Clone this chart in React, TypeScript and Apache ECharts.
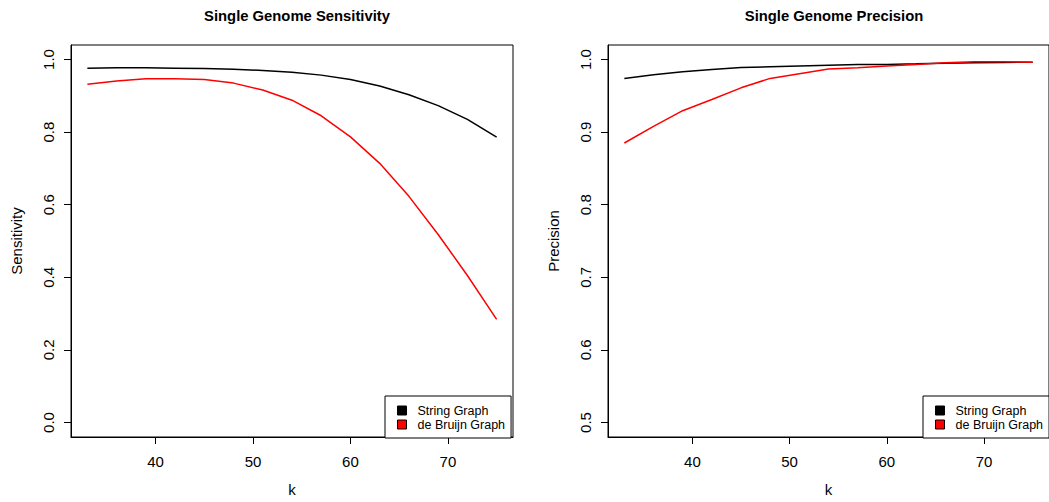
import React, { useEffect, useRef } from "react";
import * as echarts from "echarts";

const kValues = [33, 36, 39, 42, 45, 48, 51, 54, 57, 60, 63, 66, 69, 72, 75];
const sensString = [0.976, 0.977, 0.977, 0.976, 0.975, 0.973, 0.970, 0.965, 0.957, 0.945, 0.927, 0.903, 0.873, 0.835, 0.786];
const sensDeBruijn = [0.932, 0.941, 0.947, 0.947, 0.945, 0.935, 0.916, 0.888, 0.845, 0.787, 0.714, 0.623, 0.518, 0.405, 0.284];
const precString = [0.974, 0.979, 0.983, 0.9864, 0.989, 0.990, 0.991, 0.992, 0.993, 0.9932, 0.994, 0.995, 0.9955, 0.996, 0.9964];
const precDeBruijn = [0.885, 0.908, 0.9295, 0.945, 0.961, 0.974, 0.9805, 0.987, 0.9886, 0.991, 0.993, 0.9955, 0.997, 0.997, 0.9964];
const xTicks = [40, 50, 60, 70];
const sensTicks = [0, 0.2, 0.4, 0.6, 0.8, 1.0];
const precTicks = [0.5, 0.6, 0.7, 0.8, 0.9, 1.0];
const seriesNames = ["String Graph", "de Bruijn Graph"];
const titles = ["Single Genome Sensitivity", "Single Genome Precision"];
const yNames = ["Sensitivity", "Precision"];

const FONT = "'Liberation Sans', Arial, Helvetica, sans-serif";

export default function App() {
  const ref = useRef<HTMLDivElement>(null);
  useEffect(() => {
    if (!ref.current) return;
    const chart = echarts.init(ref.current, null, { renderer: "svg" });
    const pair = (vals: number[]) => kValues.map((k, i) => [k, vals[i]]);
    const gridLefts = [71, 608];
    const gridW = 442;
    const xAxis = [0, 1].map((i) => ({
      type: "value",
      gridIndex: i,
      position: "bottom",
      min: 31.32,
      max: 76.68,
      name: "k",
      nameLocation: "middle",
      nameGap: 45,
      nameTextStyle: { fontFamily: FONT, fontSize: 15, color: "#000" },
      axisLine: { show: true, onZero: false, lineStyle: { color: "#000", width: 1 } },
      splitLine: { show: false },
      axisTick: { show: true, inside: false, length: 7, customValues: xTicks, lineStyle: { color: "#000", width: 1 } },
      axisLabel: { show: true, margin: 17, customValues: xTicks, fontFamily: FONT, fontSize: 15, color: "#000" },
    }));
    const yTickSets = [sensTicks, precTicks];
    const yRanges = [
      [-0.04, 1.04],
      [0.48, 1.02],
    ];
    const yAxis = [0, 1].map((i) => ({
      type: "value",
      gridIndex: i,
      position: "left",
      min: yRanges[i][0],
      max: yRanges[i][1],
      name: yNames[i],
      nameLocation: "middle",
      nameGap: 47,
      nameTextStyle: { fontFamily: FONT, fontSize: 15, color: "#000" },
      axisLine: { show: true, onZero: false, lineStyle: { color: "#000", width: 1 } },
      splitLine: { show: false },
      axisTick: { show: true, inside: false, length: 7, customValues: yTickSets[i], lineStyle: { color: "#000", width: 1 } },
      axisLabel: {
        show: true,
        rotate: 90,
        margin: 15,
        customValues: yTickSets[i],
        formatter: (v: number) => v.toFixed(1),
        fontFamily: FONT,
        fontSize: 15,
        color: "#000",
      },
    }));
    const mkSeries = (name: string, color: string, vals: number[], idx: number) => ({
      type: "line",
      name,
      xAxisIndex: idx,
      yAxisIndex: idx,
      data: pair(vals),
      showSymbol: false,
      symbol: "none",
      color,
      lineStyle: { color, width: 1.5 },
      itemStyle: { color },
    });
    const legends = [385, 923].map((left) => ({
      left,
      top: 396,
      orient: "vertical",
      data: seriesNames,
      icon: "rect",
      itemWidth: 9,
      itemHeight: 9,
      itemGap: 1,
      padding: [8, 6, 7, 12],
      borderColor: "#000",
      borderWidth: 1,
      backgroundColor: "#fff",
      selectedMode: false,
      itemStyle: { borderColor: "#000", borderWidth: 1 },
      textStyle: { fontFamily: FONT, fontSize: 12.5, color: "#000", padding: [0, 0, 0, 6] },
    }));
    chart.setOption({
      animation: false,
      backgroundColor: "#fff",
      title: titles.map((t, i) => ({
        text: t,
        left: gridLefts[i] + gridW / 2,
        top: 3,
        textAlign: "center",
        textStyle: { fontFamily: FONT, fontSize: 14.8, fontWeight: "bold", color: "#000" },
      })),
      grid: gridLefts.map((left) => ({
        left,
        top: 45,
        width: gridW,
        height: 396,
        show: true,
        borderColor: "#000",
        borderWidth: 1,
        backgroundColor: "transparent",
        containLabel: false,
      })),
      xAxis,
      yAxis,
      legend: legends,
      series: [
        mkSeries(seriesNames[0], "#000000", sensString, 0),
        mkSeries(seriesNames[1], "#ff0000", sensDeBruijn, 0),
        mkSeries(seriesNames[0], "#000000", precString, 1),
        mkSeries(seriesNames[1], "#ff0000", precDeBruijn, 1),
      ],
    });
    return () => chart.dispose();
  }, []);
  return (
    <div
      ref={ref}
      style={{ position: "absolute", left: 0, top: 0, width: 1049, height: 502 }}
    />
  );
}
